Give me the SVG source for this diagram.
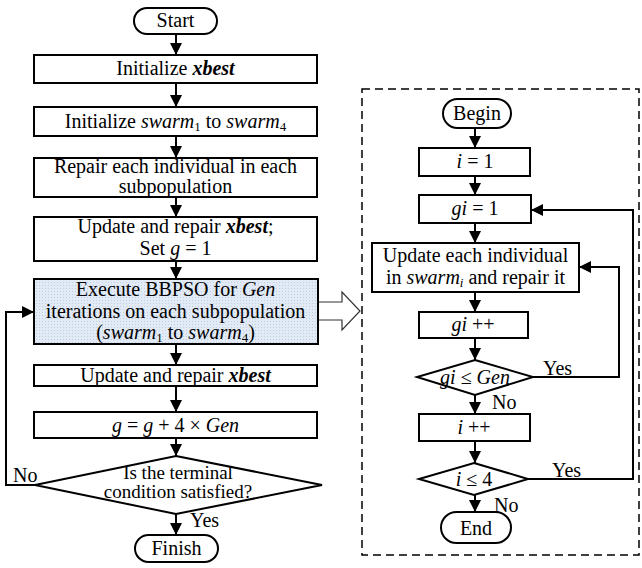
<svg xmlns="http://www.w3.org/2000/svg" width="642" height="568" viewBox="0 0 642 568" font-family="'Liberation Serif', 'Times New Roman', 'DejaVu Serif', serif">
<style>
text{font-family:'Liberation Serif','Times New Roman','DejaVu Serif',serif;font-size:20px;fill:#000;text-anchor:middle}
.b{fill:#fff;stroke:#000;stroke-width:2}
.c{fill:none;stroke:#000;stroke-width:2}
.i{font-style:italic}
.bi{font-style:italic;font-weight:bold}
.s{font-size:13px}
.l{text-anchor:start}
.d{font-size:19px}
</style>
<defs>
<marker id="ah" markerWidth="12" markerHeight="12" refX="12" refY="6" orient="auto" markerUnits="userSpaceOnUse"><path d="M0,0 L12,6 L0,12 z" fill="#000"/></marker>
<pattern id="dots" width="3" height="3" patternUnits="userSpaceOnUse"><rect width="3" height="3" fill="#e2eaf5"/><rect width="1" height="1" fill="#bfcfe6"/></pattern>
</defs>
<rect x="362" y="89" width="277" height="466" fill="none" stroke="#000" stroke-width="1.5" stroke-dasharray="8,5"/>
<g id="connectors">
<path class="c" d="M176,34 V55" marker-end="url(#ah)"/>
<path class="c" d="M176,83 V107" marker-end="url(#ah)"/>
<path class="c" d="M176,136 V158" marker-end="url(#ah)"/>
<path class="c" d="M176,197 V217" marker-end="url(#ah)"/>
<path class="c" d="M176,261 V279" marker-end="url(#ah)"/>
<path class="c" d="M176,344 V365" marker-end="url(#ah)"/>
<path class="c" d="M176,386 V412" marker-end="url(#ah)"/>
<path class="c" d="M176,438 V456" marker-end="url(#ah)"/>
<path class="c" d="M176,514 V535" marker-end="url(#ah)"/>
<path class="c" d="M35,485 H6 V312 H34" marker-end="url(#ah)"/>
<path d="M318,302 H342 V292 L360,311 L342,330 V320 H318" fill="#fff" stroke="#333" stroke-width="1.2"/>
<path class="c" d="M475,128 V148" marker-end="url(#ah)"/>
<path class="c" d="M475,176 V195" marker-end="url(#ah)"/>
<path class="c" d="M475,223 V243" marker-end="url(#ah)"/>
<path class="c" d="M475,292 V312" marker-end="url(#ah)"/>
<path class="c" d="M475,338 V360" marker-end="url(#ah)"/>
<path class="c" d="M475,395 V414" marker-end="url(#ah)"/>
<path class="c" d="M475,441 V463" marker-end="url(#ah)"/>
<path class="c" d="M475,495 V512" marker-end="url(#ah)"/>
<path class="c" d="M533,377 H619 V267 H579" marker-end="url(#ah)"/>
<path class="c" d="M528,479 H633 V210 H531" marker-end="url(#ah)"/>
<text class="l" x="13" y="482">No</text>
<text class="l" x="190" y="527">Yes</text>
<text class="l" x="543" y="375">Yes</text>
<text class="l" x="492" y="409">No</text>
<text class="l" x="552" y="477">Yes</text>
<text class="l" x="494" y="512">No</text>
</g>
<g id="start"><rect class="b" x="134" y="8" width="83" height="26" rx="13"/><text x="175.5" y="27">Start</text></g>
<g id="init-xbest"><rect class="b" x="34" y="55" width="283" height="28"/><text x="175.5" y="75">Initialize <tspan class="bi">xbest</tspan></text></g>
<g id="init-swarm"><rect class="b" x="34" y="107" width="283" height="29"/><text x="175.5" y="128">Initialize <tspan class="i">swarm</tspan><tspan class="s" dy="3">1</tspan><tspan dy="-3"> to </tspan><tspan class="i">swarm</tspan><tspan class="s" dy="3">4</tspan></text></g>
<g id="repair"><rect class="b" x="34" y="158" width="283" height="39"/><text x="175.5" y="173">Repair each individual in each</text><text x="175.5" y="193">subpopulation</text></g>
<g id="update1"><rect class="b" x="34" y="217" width="283" height="44"/><text x="175.5" y="233">Update and repair <tspan class="bi">xbest</tspan>;</text><text x="175.5" y="255">Set <tspan class="i">g</tspan> = 1</text></g>
<g id="bbpso"><rect x="34" y="279" width="284" height="65" fill="url(#dots)" stroke="#000" stroke-width="2"/><text x="175.5" y="296">Execute BBPSO for <tspan class="i">Gen</tspan></text><text x="175.5" y="318">iterations on each subpopulation</text><text x="175.5" y="339">(<tspan class="i">swarm</tspan><tspan class="s" dy="3">1</tspan><tspan dy="-3"> to </tspan><tspan class="i">swarm</tspan><tspan class="s" dy="3">4</tspan><tspan dy="-3">)</tspan></text></g>
<g id="update2"><rect class="b" x="34" y="365" width="283" height="21"/><text x="175.5" y="382">Update and repair <tspan class="bi">xbest</tspan></text></g>
<g id="gupdate"><rect class="b" x="34" y="412" width="283" height="26"/><text x="175.5" y="432"><tspan class="i">g</tspan> = <tspan class="i">g</tspan> + 4 × <tspan class="i">Gen</tspan></text></g>
<g id="terminal"><polygon class="b" points="176,456 322,485 176,514 35,485"/><text class="d" x="178" y="479">Is the terminal</text><text class="d" x="178" y="498">condition satisfied?</text></g>
<g id="finish"><rect class="b" x="135" y="535" width="83" height="27" rx="13.5"/><text x="176.5" y="555">Finish</text></g>
<g id="begin"><rect class="b" x="443" y="99" width="68" height="29" rx="14.5"/><text x="477" y="120">Begin</text></g>
<g id="i1"><rect class="b" x="419" y="148" width="111" height="28"/><text x="475" y="168"><tspan class="i">i</tspan> = 1</text></g>
<g id="gi1"><rect class="b" x="419" y="195" width="112" height="28"/><text x="475" y="215"><tspan class="i">gi</tspan> = 1</text></g>
<g id="update-ind"><rect class="b" x="372" y="243" width="207" height="49"/><text x="475.5" y="262">Update each individual</text><text x="475.5" y="284">in <tspan class="i">swarm<tspan class="s" dy="3">i</tspan></tspan><tspan dy="-3"> and repair it</tspan></text></g>
<g id="gipp"><rect class="b" x="419" y="312" width="109" height="26"/><text x="473" y="331"><tspan class="i">gi</tspan> ++</text></g>
<g id="gi-le-gen"><polygon class="b" points="475,360 533,377 475,395 417,377"/><text x="475" y="384"><tspan class="i">gi</tspan> ≤ <tspan class="i">Gen</tspan></text></g>
<g id="ipp"><rect class="b" x="419" y="414" width="111" height="27"/><text x="474" y="434"><tspan class="i">i</tspan> ++</text></g>
<g id="i-le-4"><polygon class="b" points="474,463 528,479 474,495 419,479"/><text x="474" y="486"><tspan class="i">i</tspan> ≤ 4</text></g>
<g id="end"><rect class="b" x="441" y="512" width="70" height="31" rx="15.5"/><text x="476" y="535">End</text></g>
</svg>
